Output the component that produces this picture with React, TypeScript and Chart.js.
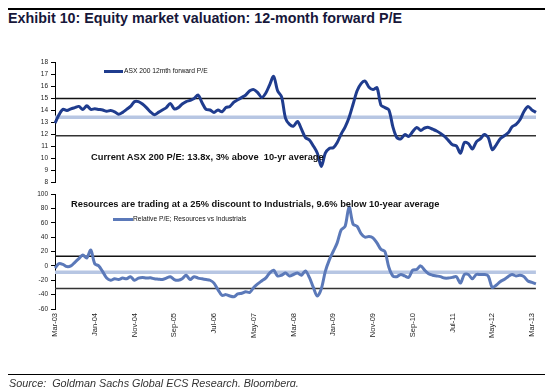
import React, { useEffect, useRef } from 'react';
import { Chart, registerables } from 'chart.js';
Chart.register(...registerables);

const MONTH_NAMES = ['Jan', 'Feb', 'Mar', 'Apr', 'May', 'Jun', 'Jul', 'Aug', 'Sep', 'Oct', 'Nov', 'Dec'];
const START_YEAR = 2003;
const START_MONTH = 2; // March
const N_MONTHS = 122;
const CATEGORIES: string[] = Array.from({ length: N_MONTHS }, (_, i) => {
  const t = START_MONTH + i;
  const y = START_YEAR + Math.floor(t / 12);
  return `${MONTH_NAMES[t % 12]}-${String(y % 100).padStart(2, '0')}`;
});
const TICK_LABELS = ['Mar-03', 'Jan-04', 'Nov-04', 'Sep-05', 'Jul-06', 'May-07', 'Mar-08', 'Jan-09', 'Nov-09', 'Sep-10', 'Jul-11', 'May-12', 'Mar-13'];

// ASX 200 12mth forward P/E (monthly, Mar-03 ..)
const ASX_PE = [
  12.9, 13.6, 14.05, 13.95, 14.1, 14.2, 14.3, 14.05, 14.35, 14.05,
  14.1, 14.05, 14.0, 13.9, 13.95, 13.85, 13.65, 13.8, 14.05, 14.3,
  14.7, 14.7, 14.5, 14.2, 13.85, 13.6, 13.8, 14.0, 14.2, 14.55,
  14.1, 14.2, 14.5, 14.7, 14.8, 14.95, 15.25, 14.6, 14.05, 14.0,
  13.8, 14.0, 13.85, 14.2, 14.3, 14.65, 14.85, 15.05, 15.25, 15.6,
  15.7, 15.45, 15.05, 15.4, 16.1, 16.8, 15.6, 15.1, 13.3, 12.8,
  12.65, 13.05, 12.4, 11.7, 11.5, 11.0, 10.4, 9.3, 10.4, 10.8,
  10.85, 11.3, 12.0, 12.6, 13.4, 14.5, 15.6, 16.2, 16.4, 15.9,
  15.7, 15.85, 14.4, 14.2, 14.0, 12.6, 11.7, 11.6, 11.95, 11.8,
  12.2, 12.55, 12.3, 12.5, 12.55, 12.4, 12.25, 12.05, 11.8, 11.45,
  11.1, 11.0, 10.4, 11.3, 11.2, 10.75, 11.35, 11.6, 11.95, 11.7,
  10.7, 11.1, 11.6, 11.85, 12.1, 12.6, 12.8, 13.2, 13.9, 14.3,
  14.0, 13.8,
];
const ASX_AVG = 13.4;
const ASX_UPPER = 14.95;
const ASX_LOWER = 11.85;

// Relative P/E; Resources vs Industrials
const REL_PE = [
  -3, 3, 2, -1, 0, 5, 10, 15, 11, 22,
  3, 0, -8, -17, -20, -18, -19, -17, -18, -15,
  -20, -17, -16, -17, -16.5, -18, -18.5, -19, -17, -15,
  -19, -20, -18, -13, -19, -15, -17, -18, -19, -20,
  -24, -33, -41, -40, -42, -43, -39, -38, -36, -37,
  -30, -25, -21, -17, -10, -6, -14, -13, -10, -14,
  -12, -10, -13, -7, -16, -30, -42, -32, -8, 8,
  20, 32, 50, 55, 82, 58, 55, 45, 40, 41,
  39, 32, 23, 20, -2, -14, -15, -12, -14, -16,
  -6, -5, 0, -6, -11, -13, -14, -15, -17, -17,
  -16, -15, -24, -12, -12, -18, -12, -12, -12, -14,
  -30, -27, -22, -19, -15, -12, -14, -13, -15, -21,
  -23, -25,
];
const REL_AVG = -9;
const REL_UPPER = 13.5;
const REL_LOWER = -31.5;

const W = 545;
const H = 387;
const FONT = '"Liberation Sans", Arial, sans-serif';
const DARK_BLUE = '#1f3c8e';
const MID_BLUE = '#5b79b9';
const LIGHT_BLUE = '#b7c6e3';

const flat = (v: number) => CATEGORIES.map(() => v);

function refLines(avg: number, upper: number, lower: number) {
  return [
    { data: flat(upper), borderColor: '#111', borderWidth: 1.5, pointRadius: 0, order: 3 },
    { data: flat(lower), borderColor: '#333', borderWidth: 1.5, pointRadius: 0, order: 3 },
    { data: flat(avg), borderColor: LIGHT_BLUE, borderWidth: 3.5, pointRadius: 0, order: 2 },
  ];
}

function yAxis(min: number, max: number, step: number) {
  return {
    min,
    max,
    afterFit: (s: any) => { s.width = 55; },
    ticks: { stepSize: step, color: '#222', font: { family: FONT, size: 6.5 }, padding: 3 },
    grid: { drawOnChartArea: false, drawTicks: true, tickLength: 4, color: '#000', lineWidth: 1 },
    border: { display: true, color: '#000', width: 1 },
  };
}

export default function App() {
  const topRef = useRef<HTMLCanvasElement>(null);
  const botRef = useRef<HTMLCanvasElement>(null);

  useEffect(() => {
    const top = new Chart(topRef.current!, {
      type: 'line',
      data: {
        labels: CATEGORIES,
        datasets: [
          ...refLines(ASX_AVG, ASX_UPPER, ASX_LOWER),
          { data: ASX_PE, borderColor: DARK_BLUE, borderWidth: 3, pointRadius: 0, tension: 0.3, order: 1 },
        ] as any,
      },
      options: {
        responsive: false,
        animation: false,
        layout: { padding: { top: 62, bottom: H - 182, left: 0, right: 9 } },
        plugins: { legend: { display: false }, tooltip: { enabled: false } },
        scales: {
          x: { display: false, offset: false },
          y: yAxis(8, 18, 1) as any,
        },
      },
    });
    const bot = new Chart(botRef.current!, {
      type: 'line',
      data: {
        labels: CATEGORIES,
        datasets: [
          ...refLines(REL_AVG, REL_UPPER, REL_LOWER),
          { data: REL_PE, borderColor: MID_BLUE, borderWidth: 3, pointRadius: 0, tension: 0.3, order: 1 },
        ] as any,
      },
      options: {
        responsive: false,
        animation: false,
        layout: { padding: { top: 194, bottom: H - 309 - 32, left: 0, right: 9 } },
        plugins: { legend: { display: false }, tooltip: { enabled: false } },
        scales: {
          x: {
            offset: false,
            afterFit: (s: any) => { s.height = 32; },
            grid: { display: false, drawTicks: false },
            border: { display: false },
            ticks: {
              autoSkip: false,
              minRotation: 90,
              maxRotation: 90,
              padding: 4,
              color: '#222',
              font: { family: FONT, size: 7.5 },
              callback: (_v: any, i: number) => (TICK_LABELS.includes(CATEGORIES[i]) ? CATEGORIES[i] : null),
            },
          } as any,
          y: yAxis(-60, 100, 20) as any,
        },
      },
    });
    return () => { top.destroy(); bot.destroy(); };
  }, []);

  const abs = (s: React.CSSProperties): React.CSSProperties => ({ position: 'absolute', ...s });

  return (
    <div style={{ position: 'fixed', left: 0, top: 0, width: W, height: H, background: '#fff', fontFamily: FONT, overflow: 'hidden' }}>
      <div style={abs({ left: 8, top: 7.5, width: W - 8, height: 2, background: '#000' })} />
      <div style={abs({ left: 8, top: 10, fontSize: 14.3, fontWeight: 'bold', color: '#17173a', whiteSpace: 'nowrap', lineHeight: '16px' })}>
        Exhibit 10: Equity market valuation: 12-month forward P/E
      </div>
      <canvas ref={topRef} width={W} height={H} style={abs({ left: 0, top: 0, width: W, height: H })} />
      <canvas ref={botRef} width={W} height={H} style={abs({ left: 0, top: 0, width: W, height: H })} />

      <div style={abs({ left: 104, top: 69.5, width: 19, height: 3, background: DARK_BLUE })} />
      <div style={abs({ left: 124, top: 67, fontSize: 6.7, lineHeight: '8px', color: '#111', whiteSpace: 'nowrap' })}>ASX 200 12mth forward P/E</div>

      <div style={abs({ left: 113, top: 217.5, width: 20, height: 3, background: MID_BLUE })} />
      <div style={abs({ left: 133, top: 215, fontSize: 6.7, lineHeight: '8px', color: '#111', whiteSpace: 'nowrap' })}>Relative P/E; Resources vs Industrials</div>

      <div style={abs({ left: 91, top: 151.5, fontSize: 9.3, fontWeight: 'bold', lineHeight: '11px', color: '#111', whiteSpace: 'pre' })}>
        {'Current ASX 200 P/E: 13.8x, 3% above  10-yr average'}
      </div>
      <div style={abs({ left: 71, top: 198.5, fontSize: 9.3, fontWeight: 'bold', lineHeight: '11px', color: '#111', whiteSpace: 'pre' })}>
        {'Resources are trading at a 25% discount to Industrials, 9.6% below 10-year average'}
      </div>

      <div style={abs({ left: 8, top: 373.5, width: W - 8, height: 1, background: '#000' })} />
      <div style={abs({ left: 9, top: 376.5, fontSize: 10.8, fontStyle: 'italic', lineHeight: '12px', color: '#333', whiteSpace: 'pre' })}>
        {'Source:  Goldman Sachs Global ECS Research, Bloomberg.'}
      </div>
    </div>
  );
}
